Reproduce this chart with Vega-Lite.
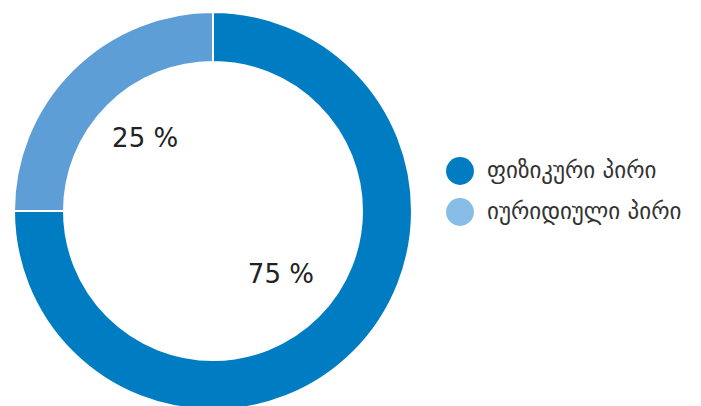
{
  "$schema": "https://vega.github.io/schema/vega-lite/v6.json",
  "width": 426,
  "height": 422,
  "padding": {"left": 0, "top": 0, "right": 275, "bottom": 0},
  "autosize": "none",
  "background": "white",
  "config": {"view": {"stroke": null}, "font": "DejaVu Sans"},
  "data": {"values": [
    {"type": "ფიზიკური პირი", "share": 75, "label": "75 %", "ord": 1},
    {"type": "იურიდიული პირი", "share": 25, "label": "25 %", "ord": 2}
  ]},
  "encoding": {
    "theta": {"field": "share", "type": "quantitative", "stack": true},
    "order": {"field": "ord", "type": "quantitative"}
  },
  "layer": [
    {
      "mark": {"type": "arc", "outerRadius": 199, "innerRadius": 149, "stroke": "white", "strokeWidth": 2},
      "encoding": {
        "color": {
          "field": "type", "type": "nominal",
          "scale": {"domain": ["ფიზიკური პირი", "იურიდიული პირი"], "range": ["#007DC2", "#5E9ED6"]},
          "legend": null
        }
      }
    },
    {
      "mark": {"type": "arc", "outerRadius": 0, "innerRadius": 0},
      "encoding": {
        "color": {
          "field": "type", "type": "nominal",
          "scale": {"domain": ["ფიზიკური პირი", "იურიდიული პირი"], "range": ["#007DC2", "#86BCE6"]},
          "legend": {
            "title": null, "orient": "none", "legendX": 446, "legendY": 157,
            "symbolType": "circle", "symbolSize": 780, "symbolStrokeWidth": 0, "symbolOpacity": 1,
            "labelFontSize": 23, "labelColor": "#333333", "labelFont": "DejaVu Sans",
            "labelLimit": 300,
            "rowPadding": 13, "labelOffset": 13
          }
        }
      }
    },
    {
      "mark": {"type": "text", "radius": 96, "fontSize": 26, "color": "#222222", "dy": -4},
      "encoding": {"text": {"field": "label"}}
    }
  ],
  "resolve": {"scale": {"color": "independent"}}
}
